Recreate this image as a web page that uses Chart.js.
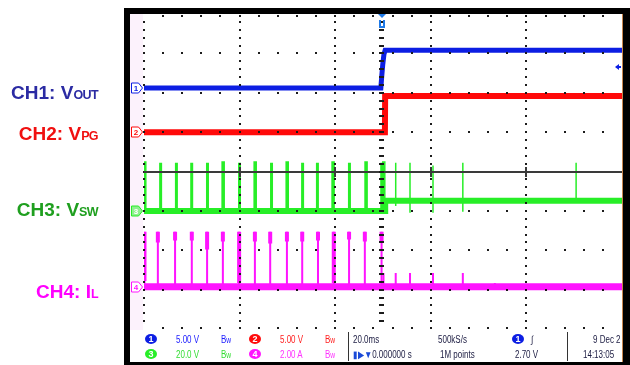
<!DOCTYPE html>
<html>
<head>
<meta charset="utf-8">
<script src="https://cdn.jsdelivr.net/npm/chart.js@4/dist/chart.umd.min.js"></script>
<style>
  html, body { margin: 0; padding: 0; background: #fff; }
  #wrap { position: relative; width: 630px; height: 365px; overflow: hidden; font-family: "Liberation Sans", Arial, sans-serif; }
  #frame  { position: absolute; left: 124px; top: 8px; width: 506px; height: 357px; background: #000; }
  #screen { position: absolute; left: 130px; top: 14px; width: 492px; height: 348px; background: #fff; }
  #strip  { position: absolute; left: 130px; top: 14px; width: 13px; height: 316px; background: #fcf2fc; }
  #edge   { position: absolute; left: 622px; top: 14px; width: 1px; height: 348px; background: #c8864e; }
  canvas { position: absolute; left: 0; top: 0; }
  .lbl { position: absolute; right: 532px; font-weight: bold; font-size: 19px; line-height: 20px; white-space: nowrap; }
  .lbl span { font-size: 12.5px; letter-spacing: -0.6px; }
  .st { position: absolute; font-size: 10px; line-height: 11px; white-space: nowrap; transform: scaleX(0.8); transform-origin: 0 0; }
  .dot { position: absolute; width: 12px; height: 10px; border-radius: 50%; color: #fff; font-size: 9px; line-height: 10px; text-align: center; font-weight: bold; }
  .sep { position: absolute; top: 332px; width: 3px; height: 29px; border-left: 1px solid #333; }
</style>
</head>
<body>
<div id="wrap">
  <div id="frame"></div>
  <div id="screen"></div>
  <div id="strip"></div>
  <div id="edge"></div>
  <canvas id="scope" width="630" height="365"></canvas>

  <div class="lbl" style="top:83px;color:#2b2ba3">CH1: V<span>OUT</span></div>
  <div class="lbl" style="top:124px;color:#f01010">CH2: V<span>PG</span></div>
  <div class="lbl" style="top:200px;color:#1f9f1f">CH3: V<span>SW</span></div>
  <div class="lbl" style="top:282px;color:#ff00ff">CH4: I<span>L</span></div>

  <div id="status"></div>
</div>

<script>
// Horizontal timebase (ms), trigger point at t = 0
const timePerDiv = 20.0;
const timeDivs = 5;

// Channel settings: units per division and ground-marker position (divisions above centre)
const channelNames = ['1', '2', '3', '4'];
const channelPerDiv = [5.0, 5.0, 20.0, 2.0];
const channelUnits = ['V', 'V', 'V', 'A'];
const channelZeroDiv = [2.12, 1.0, -1.0, -2.93];
const channelColors = ['#0c1ee3', '#ff0a0a', '#27ee27', '#ff14ff'];
const channelText = ['#1a1aff', '#ff2020', '#33dd33', '#ff33ff'];

// Trigger: CH1 rising edge
const triggerLevel = 2.70;

// CH1 VOUT (V)
const voutTime  = [-50, -0.45, -0.25, -0.05, 0.2, 0.45, 50];
const voutVolts = [0, 0, 1.6, 3.0, 4.3, 4.8, 4.8];

// CH2 VPG (V)
const pgTime  = [-50, 0.4, 0.45, 50];
const pgVolts = [0, 0, 4.6, 4.6];

// CH3 VSW (V): baseline, burst pulses before the edge, sparse spikes after
const swTime  = [-50, 0.42, 0.46, 50];
const swVolts = [0, 0, 5.2, 5.2];
const swPulseTime = [-49.9, -46.6, -43.3, -40.1, -36.8, -33.5, -30.1, -26.8, -23.4, -20.1, -16.9, -13.8, -10.5, -7.1, -3.6, -0.35, 0.1];
const swPulsePeak = [24.4, 24.4, 24.4, 24.4, 24.4, 24.4, 24.4, 24.4, 24.4, 24.4, 24.4, 24.4, 24.4, 24.4, 24.4, 24.4, 24.4];
const swSpikeTime = [2.66, 5.65, 10.46, 16.7, 40.4];
const swSpikePeak = [24.4, 24.4, 23.0, 24.4, 24.4];
const swSpikeLow  = [2.5, -1.0, -1.0, -0.5, 4.0];

// CH4 IL (A): burst current pulses, each with a dense top section
const ilTime = [-50, 50];
const ilAmps = [0, 0];
const ilPulseTime = [-49.9, -47.1, -43.5, -40.0, -36.8, -33.5, -30.1, -26.8, -23.6, -20.1, -16.9, -13.6, -10.3, -7.1, -3.8, -0.3];
const ilPulsePeak = [2.8, 2.8, 2.8, 2.8, 2.8, 2.8, 2.8, 2.8, 2.8, 2.8, 2.8, 2.8, 2.8, 2.8, 2.8, 2.8];
const ilPulseDense = [2.5, 0.55, 0.45, 0.45, 0.9, 0.5, 2.6, 0.5, 0.6, 0.5, 0.5, 0.45, 2.6, 0.4, 0.5, 0.5];
const ilTailTime = [0.1, 2.66, 5.65, 10.46, 16.7, 23.4, 29.8, 35.8, 44.0];
const ilTailPeak = [0.7, 0.7, 0.7, 0.7, 0.7, 0.2, 0.15, 0.15, 0.15];

// Readout strings
const sweepText = '20.0ms';
const rateText = '500kS/s';
const posText = '0.000000 s';
const recordText = '1M points';
const dateText = '9 Dec 2';
const clockText = '14:13:05';

// ---- build point lists ----
const pts = (xs, ys) => xs.map((t, i) => ({ x: t, y: ys[i] }));
function pulses(times, peaks, w) {
  const out = [];
  times.forEach((t, i) => {
    out.push({ x: t, y: 0 }, { x: t, y: peaks[i] }, { x: t + w, y: peaks[i] }, { x: t + w, y: 0 }, { x: t + w, y: null });
  });
  return out;
}
function spikes(times, peaks, lows, base) {
  const out = [];
  times.forEach((t, i) => {
    out.push({ x: t, y: base }, { x: t, y: peaks[i] }, { x: t, y: lows[i] }, { x: t, y: base }, { x: t + 0.01, y: null });
  });
  return out;
}
function caps(times, peaks, lens) {
  const out = [];
  times.forEach((t, i) => {
    out.push({ x: t, y: peaks[i] }, { x: t, y: peaks[i] - lens[i] }, { x: t + 0.01, y: null });
  });
  return out;
}

const axis = (i) => ({
  type: 'linear', display: false,
  min: (-4 - channelZeroDiv[i]) * channelPerDiv[i],
  max: (4 - channelZeroDiv[i]) * channelPerDiv[i]
});

function ds(data, axisId, color, width, order) {
  return { data, yAxisID: axisId, borderColor: color, borderWidth: width, pointRadius: 0,
           tension: 0, spanGaps: false, fill: false, order, borderJoinStyle: 'miter', borderCapStyle: 'butt' };
}

const datasets = [
  ds(pts(voutTime, voutVolts), 'y1', channelColors[0], 5, 1),
  ds(pts(pgTime, pgVolts), 'y2', channelColors[1], 6, 2),
  ds(pts(swTime, swVolts), 'y3', channelColors[2], 6, 3),
  ds(pulses(swPulseTime, swPulsePeak, 0.12), 'y3', channelColors[2], 3, 3),
  ds(spikes(swSpikeTime, swSpikePeak, swSpikeLow, 5.2), 'y3', channelColors[2], 1.5, 3),
  ds(pts(ilTime, ilAmps), 'y4', channelColors[3], 7, 4),
  ds(spikes(ilPulseTime, ilPulsePeak, ilPulsePeak.map(() => 0), 0), 'y4', channelColors[3], 2, 4),
  ds(caps(ilPulseTime, ilPulsePeak, ilPulseDense), 'y4', channelColors[3], 4, 4),
  ds(spikes(ilTailTime, ilTailPeak, ilTailPeak.map(() => 0), 0), 'y4', channelColors[3], 2, 4)
];

// ---- graticule, drawn over the traces ----
const graticule = {
  id: 'graticule',
  afterDatasetsDraw(chart) {
    const { ctx, chartArea: a, scales } = chart;
    const x = scales.x;
    const divW = x.getPixelForValue(x.min + timePerDiv) - x.getPixelForValue(x.min);
    const divH = (a.bottom - a.top) / 8;
    ctx.save();
    ctx.fillStyle = '#1c1c1c';
    for (let i = 0; i < timeDivs; i++) {
      const px = Math.round(x.getPixelForValue(x.min + i * timePerDiv));
      for (let k = 1; k < 40; k++) {
        ctx.fillRect(px - 1, Math.round(a.top + k * divH / 5) - 1, 2, 2);
      }
    }
    for (let j = 0; j <= 8; j++) {
      if (j === 4) continue;
      let py = a.top + j * divH;
      if (j === 0) py += 1.5;
      if (j === 8) py -= 1;
      for (let k = 1; k < timeDivs * 5; k++) {
        ctx.fillRect(Math.round(a.left + k * divW / 5) - 1, Math.round(py) - 1, 2, 2);
      }
    }
    // centre horizontal axis
    const cy = Math.round(a.top + 4 * divH);
    ctx.fillStyle = '#3a3a3a';
    ctx.fillRect(a.left, cy - 1, a.right - a.left, 2);
    for (let i = 1; i < timeDivs; i++) {
      const px = Math.round(x.getPixelForValue(x.min + i * timePerDiv));
      ctx.fillRect(px - 1, cy - 5, 2, 10);
    }
    // centre vertical axis (trigger position)
    const cx = Math.round(x.getPixelForValue(0)) - 1;
    ctx.fillStyle = '#1c1c1c';
    for (let k = 1; k < 40; k++) {
      ctx.fillRect(cx - 3, Math.round(a.top + k * divH / 5) - 1, 5, 2);
    }
    ctx.restore();
  },
  afterDraw(chart) {
    const { ctx, chartArea: a, scales } = chart;
    ctx.save();
    // channel ground markers
    channelNames.forEach((n, i) => {
      const y = Math.round(scales['y' + n].getPixelForValue(0));
      ctx.beginPath();
      ctx.moveTo(131.5, y - 5); ctx.lineTo(138.5, y - 5); ctx.lineTo(142.5, y);
      ctx.lineTo(138.5, y + 5); ctx.lineTo(131.5, y + 5); ctx.closePath();
      ctx.fillStyle = i === 2 ? '#8ef08e' : '#ffffff';
      ctx.fill();
      ctx.strokeStyle = channelColors[i];
      ctx.lineWidth = 1;
      ctx.stroke();
      ctx.fillStyle = i === 2 ? '#ffffff' : channelColors[i];
      ctx.font = 'bold 8px "Liberation Sans", Arial, sans-serif';
      ctx.textAlign = 'center';
      ctx.textBaseline = 'middle';
      ctx.fillText(n, 136, y + 0.5);
    });
    // trigger position marker
    const tx = Math.round(scales.x.getPixelForValue(0)) - 1;
    ctx.fillStyle = '#1f7ae8';
    ctx.beginPath();
    ctx.moveTo(tx - 4, a.top); ctx.lineTo(tx + 4, a.top); ctx.lineTo(tx, a.top + 4); ctx.closePath();
    ctx.fill();
    ctx.fillRect(tx - 3, a.top + 6, 2, 8);
    ctx.fillRect(tx + 1, a.top + 6, 2, 8);
    ctx.fillRect(tx - 3, a.top + 12, 6, 2);
    // trigger level marker
    const ty = Math.round(scales.y1.getPixelForValue(triggerLevel));
    ctx.fillStyle = '#0c1ee3';
    ctx.beginPath();
    ctx.moveTo(a.right - 7, ty); ctx.lineTo(a.right - 3, ty - 3); ctx.lineTo(a.right - 3, ty + 3); ctx.closePath();
    ctx.fill();
    ctx.fillRect(a.right - 4, ty - 1, 3, 2);
    ctx.restore();
  }
};

new Chart(document.getElementById('scope'), {
  type: 'line',
  data: { datasets },
  options: {
    responsive: false,
    animation: false,
    devicePixelRatio: 1,
    layout: { padding: { left: 144, right: 8, top: 14, bottom: 36 } },
    plugins: { legend: { display: false }, tooltip: { enabled: false } },
    events: [],
    scales: {
      x: { type: 'linear', display: false, min: -timePerDiv * timeDivs / 2, max: timePerDiv * timeDivs / 2 },
      y1: axis(0), y2: axis(1), y3: axis(2), y4: axis(3)
    }
  },
  plugins: [graticule]
});

// ---- status readout ----
const status = document.getElementById('status');
function put(html, left, top, color, cls) {
  const el = document.createElement('div');
  el.className = cls || 'st';
  el.style.left = left + 'px';
  el.style.top = top + 'px';
  if (cls === 'dot') el.style.background = color; else el.style.color = color;
  el.innerHTML = html;
  status.appendChild(el);
  return el;
}
const rows = [334, 349];
channelNames.forEach((n, i) => {
  const top = (i === 0 || i === 1) ? rows[0] : rows[1];
  const left = (i === 0 || i === 2) ? 145 : 249;
  put(n, left, top, channelColors[i], 'dot');
  put(channelPerDiv[i].toPrecision(3) + ' ' + channelUnits[i], left + 31, top, channelText[i]);
  put('B<small>w</small>', left + 76, top, channelText[i]);
});
const sepA = document.createElement('div'); sepA.className = 'sep'; sepA.style.left = '348px'; status.appendChild(sepA);
const sepB = document.createElement('div'); sepB.className = 'sep'; sepB.style.left = '567px'; status.appendChild(sepB);
put(sweepText, 353, rows[0], '#1a1a40');
put('<span style="color:#1a4ad8">&#9646;&#9654;&#9660;</span>' + posText, 353, rows[1], '#1a1a40');
put(rateText, 438, rows[0], '#1a1a40');
put(recordText, 440, rows[1], '#1a1a40');
put('1', 512, rows[0], '#0c1ee3', 'dot');
put('&#8747;', 531, rows[0], '#1a1a40');
put(triggerLevel.toFixed(2) + ' V', 515, rows[1], '#1a1a40');
put(dateText, 593, rows[0], '#1a1a40');
put(clockText, 583, rows[1], '#1a1a40');
</script>
</body>
</html>
